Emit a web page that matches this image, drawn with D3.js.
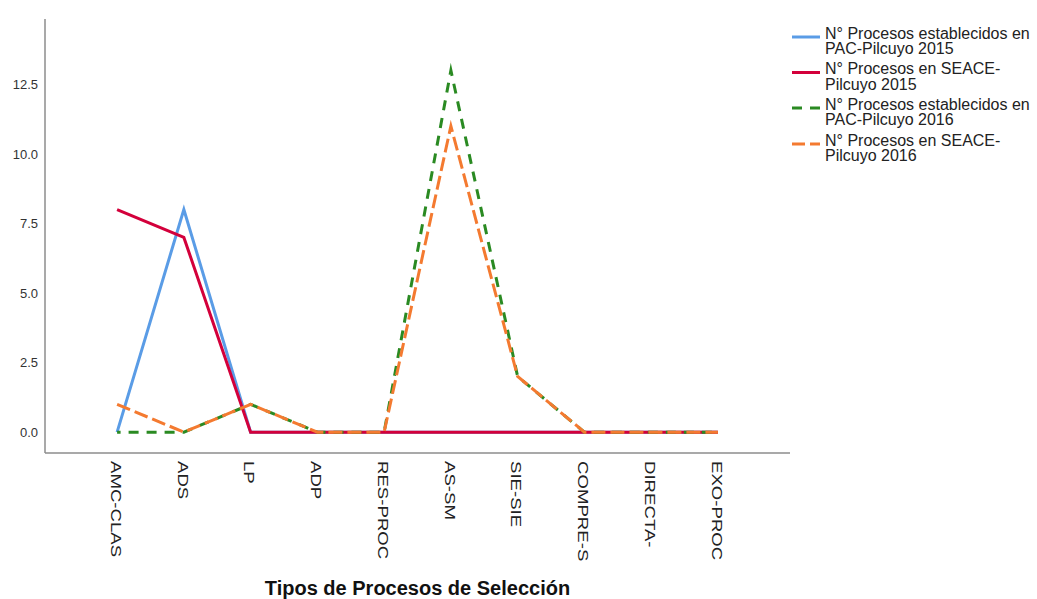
<!DOCTYPE html>
<html>
<head>
<meta charset="utf-8">
<script src="https://cdn.jsdelivr.net/npm/d3@7"></script>
<style>
html,body{margin:0;padding:0;background:#fff;}
svg{display:block;font-family:"Liberation Sans",Arial,sans-serif;}
</style>
</head>
<body>
<svg id="chart" width="1037" height="599"></svg>
<script>
const categories = ["AMC-CLAS","ADS","LP","ADP","RES-PROC","AS-SM","SIE-SIE","COMPRE-S","DIRECTA-","EXO-PROC"];
const pac2015   = [0, 8, 0, 0, 0, 0, 0, 0, 0, 0];
const seace2015 = [8, 7, 0, 0, 0, 0, 0, 0, 0, 0];
const pac2016   = [0, 0, 1, 0, 0, 13, 2, 0, 0, 0];
const seace2016 = [1, 0, 1, 0, 0, 11, 2, 0, 0, 0];
const yTicks = [0, 2.5, 5, 7.5, 10, 12.5];
const seriesNames = [
  ["N° Procesos establecidos en","PAC-Pilcuyo 2015"],
  ["N° Procesos en SEACE-","Pilcuyo 2015"],
  ["N° Procesos establecidos en","PAC-Pilcuyo 2016"],
  ["N° Procesos en SEACE-","Pilcuyo 2016"]
];
const xTitle = "Tipos de Procesos de Selección";

(function () {
const series = [
  {name: seriesNames[0], values: pac2015,   color: "#5a9ce6", dash: null, off: 0, legDash: null},
  {name: seriesNames[1], values: seace2015, color: "#d3003b", dash: null, off: 0, legDash: null},
  {name: seriesNames[2], values: pac2016,   color: "#2a8a22", dash: "10,8", off: 6.5, legDash: "10,8"},
  {name: seriesNames[3], values: seace2016, color: "#f47a30", dash: "14,5", off: 0, legDash: "13,5"}
];

const svg = d3.select("#chart");
const pL = 45, pR = 790, pT = 19, pB = 453;

const x = d3.scalePoint().domain(categories).range([pL, pR]).padding(1.08);
const y = d3.scaleLinear().domain([-0.75, 14.85]).range([pB, pT]);

// axes lines
svg.append("line").attr("x1", pL).attr("x2", pL).attr("y1", pT).attr("y2", pB)
  .attr("stroke", "#8c8c8c").attr("stroke-width", 1.5);
svg.append("line").attr("x1", pL).attr("x2", pR).attr("y1", pB).attr("y2", pB)
  .attr("stroke", "#8c8c8c").attr("stroke-width", 1.5);

// y tick labels
const yAxis = d3.axisLeft(y).tickValues(yTicks).tickFormat(d3.format(".1f")).tickSize(0).tickPadding(7);
const gy = svg.append("g").attr("transform", `translate(${pL},0)`).call(yAxis);
gy.select(".domain").remove();
gy.selectAll("text").attr("font-size", 13).attr("fill", "#333").attr("font-family", "Liberation Sans, Arial, sans-serif");

// x tick labels (rotated)
const xAxis = d3.axisBottom(x).tickSize(0).tickPadding(0);
const gx = svg.append("g").attr("transform", `translate(0,${pB})`).call(xAxis);
gx.select(".domain").remove();
gx.selectAll("text")
  .attr("font-size", 14).attr("fill", "#222").attr("font-family", "Liberation Sans, Arial, sans-serif")
  .attr("text-anchor", "start").attr("dy", null).attr("y", 0)
  .attr("transform", "translate(-3,8) rotate(90) scale(1.33,1)")
  .attr("dominant-baseline", "middle");

// lines
const line = d3.line().x((d, i) => x(categories[i])).y(d => y(d));
series.forEach(s => {
  svg.append("path").datum(s.values)
    .attr("d", line)
    .attr("fill", "none")
    .attr("stroke", s.color)
    .attr("stroke-width", 3)
    .attr("stroke-dasharray", s.dash)
    .attr("stroke-dashoffset", s.off)
    .attr("stroke-linejoin", "miter")
    .attr("stroke-miterlimit", 10);
});

// x title
svg.append("text").attr("x", (pL + pR) / 2).attr("y", 595)
  .attr("text-anchor", "middle").attr("font-size", 20).attr("font-weight", "bold")
  .attr("fill", "#111").text(xTitle);

// legend
const lg = svg.append("g");
const legY = [37, 72.5, 108, 144];
series.forEach((s, i) => {
  lg.append("line").attr("x1", 792).attr("x2", 820).attr("y1", legY[i]).attr("y2", legY[i])
    .attr("stroke", s.color).attr("stroke-width", 3).attr("stroke-dasharray", s.legDash);
  s.name.forEach((t, j) => {
    lg.append("text").attr("x", 825).attr("y", legY[i] + 1.5 + j * 15.5)
      .attr("font-size", 16).attr("fill", "#222").text(t);
  });
});
})();
</script>
</body>
</html>
